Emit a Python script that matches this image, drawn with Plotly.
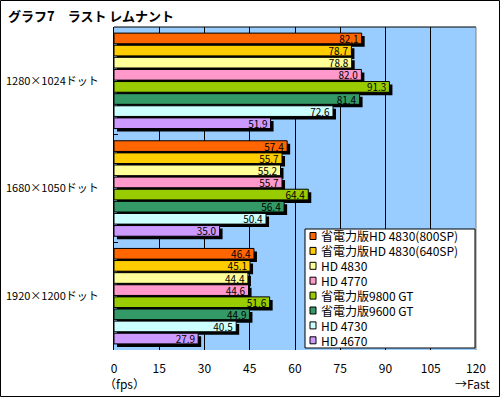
import plotly.graph_objects as go

categories = ["1280×1024ドット", "1680×1050ドット", "1920×1200ドット"]
series_names = ["省電力版HD 4830(800SP)", "省電力版HD 4830(640SP)", "HD 4830", "HD 4770",
                "省電力版9800 GT", "省電力版9600 GT", "HD 4730", "HD 4670"]
series_colors = ["#FF6600", "#FFCC00", "#FFFF99", "#FF99CC",
                 "#99CC00", "#339966", "#CCFFFF", "#CC99FF"]

hd4830_800sp = [82.1, 57.4, 46.4]
hd4830_640sp = [78.7, 55.7, 45.1]
hd4830 = [78.8, 55.2, 44.4]
hd4770 = [82.0, 55.7, 44.6]
gt9800_eco = [91.3, 64.4, 51.6]
gt9600_eco = [81.4, 56.4, 44.9]
hd4730 = [72.6, 50.4, 40.5]
hd4670 = [51.9, 35.0, 27.9]
series_values = [hd4830_800sp, hd4830_640sp, hd4830, hd4770,
                 gt9800_eco, gt9600_eco, hd4730, hd4670]

x_ticks = [0, 15, 30, 45, 60, 75, 90, 105, 120]

FONT = "Noto Sans CJK JP"
W, H = 500, 397
ML, MR, MT, MB = 114, 24, 27, 47
PW, PH = W - ML - MR, H - MT - MB
XMAX = 120
SHADOW_PX = 3
dx = SHADOW_PX * XMAX / PW
dy = SHADOW_PX * 3 / PH

ypos = list(range(len(categories)))

fig = go.Figure()
# invisible anchor trace so the base axes (ticks, grid) are drawn
fig.add_trace(go.Scatter(x=[0] * len(ypos), y=ypos, mode="markers",
                         marker=dict(opacity=0), showlegend=False, hoverinfo="skip"))
# shadows (x2/y2), then bars (x3/y3)
for name, vals in zip(series_names, series_values):
    fig.add_trace(go.Bar(x=vals, y=ypos, orientation="h", xaxis="x2", yaxis="y2",
                         marker=dict(color="black", line=dict(width=0)),
                         showlegend=False, hoverinfo="skip"))
for name, vals, col in zip(series_names, series_values, series_colors):
    fig.add_trace(go.Bar(x=vals, y=ypos, orientation="h", xaxis="x3", yaxis="y3", name=name,
                         marker=dict(color=col, line=dict(color="black", width=1)),
                         texttemplate="%{x:.1f}", textposition="inside",
                         insidetextanchor="end", constraintext="none",
                         insidetextfont=dict(color="black", size=10, family=FONT),
                         showlegend=False))

def px_x(p):
    return (p - ML) / PW

def px_y(p):
    return (H - MB - p) / PH

shapes = [
    # outer frame
    dict(type="rect", xref="paper", yref="paper", x0=px_x(0.5), x1=px_x(W - 0.5),
         y0=px_y(H - 0.5), y1=px_y(0.5), line=dict(color="black", width=1)),
    # plot top & right border
    dict(type="line", xref="paper", yref="paper", x0=0, x1=1, y0=1, y1=1,
         line=dict(color="black", width=1), layer="above"),
    dict(type="line", xref="paper", yref="paper", x0=1, x1=1, y0=0, y1=1,
         line=dict(color="#808080", width=1), layer="above"),
    # legend box
    dict(type="rect", xref="paper", yref="paper", x0=px_x(305), x1=px_x(475),
         y0=px_y(348), y1=px_y(229), line=dict(color="black", width=1),
         fillcolor="white", layer="above"),
]
annotations = [
    dict(text="<b>グラフ7　ラスト レムナント</b>", xref="paper", yref="paper",
         x=px_x(6), y=px_y(15), xanchor="left", yanchor="middle", showarrow=False,
         font=dict(family=FONT, size=13, color="black")),
    dict(text="（fps）", xref="paper", yref="paper", x=px_x(124), y=px_y(383),
         xanchor="center", yanchor="middle", showarrow=False,
         font=dict(family=FONT, size=12, color="black")),
    dict(text="→Fast", xref="paper", yref="paper", x=px_x(472), y=px_y(383),
         xanchor="center", yanchor="middle", showarrow=False,
         font=dict(family=FONT, size=12, color="black")),
]
for i, (name, col) in enumerate(zip(series_names, series_colors)):
    yc = 236 + 14.9 * i
    shapes.append(dict(type="rect", xref="paper", yref="paper",
                       x0=px_x(310), x1=px_x(316), y0=px_y(yc + 3.5), y1=px_y(yc - 3.5),
                       fillcolor=col, line=dict(color="black", width=1), layer="above"))
    annotations.append(dict(text=name, xref="paper", yref="paper", x=px_x(319), y=px_y(yc),
                            xanchor="left", yanchor="middle", showarrow=False,
                            font=dict(family=FONT, size=12, color="black")))

fig.update_layout(
    width=W, height=H, margin=dict(l=ML, r=MR, t=MT, b=MB, pad=0, autoexpand=False),
    paper_bgcolor="white", plot_bgcolor="#99CCFF",
    barmode="group", bargap=0.1, bargroupgap=0.12,
    font=dict(family=FONT, size=12, color="black"),
    showlegend=False,
    xaxis=dict(range=[0, XMAX], tickvals=x_ticks, showgrid=True, gridcolor="black",
               gridwidth=1, zeroline=False, showline=False, ticks="", automargin=False,
               ticklabelstandoff=10, tickfont=dict(family=FONT, size=12, color="black"),
               fixedrange=True),
    yaxis=dict(range=[2.5, -0.5], tickvals=ypos, ticktext=categories, showgrid=False,
               zeroline=False, showline=True, linecolor="black", linewidth=1, ticks="",
               automargin=False, ticklabelstandoff=12,
               tickfont=dict(family=FONT, size=11, color="black"), fixedrange=True,
               minor=dict(tickvals=[0.5, 1.5], ticks="inside", ticklen=4,
                          tickcolor="black", showgrid=False)),
    xaxis2=dict(range=[-dx, XMAX - dx], overlaying="x", anchor="y2", visible=False),
    yaxis2=dict(range=[2.5 - dy, -0.5 - dy], overlaying="y", anchor="x2", visible=False),
    xaxis3=dict(range=[0, XMAX], overlaying="x", anchor="y3", visible=False),
    yaxis3=dict(range=[2.5, -0.5], overlaying="y", anchor="x3", visible=False),
    shapes=shapes, annotations=annotations,
)

fig.write_html("out.html", config={"displayModeBar": False},
               post_script="document.body.style.margin='0';document.body.style.overflow='hidden';")
